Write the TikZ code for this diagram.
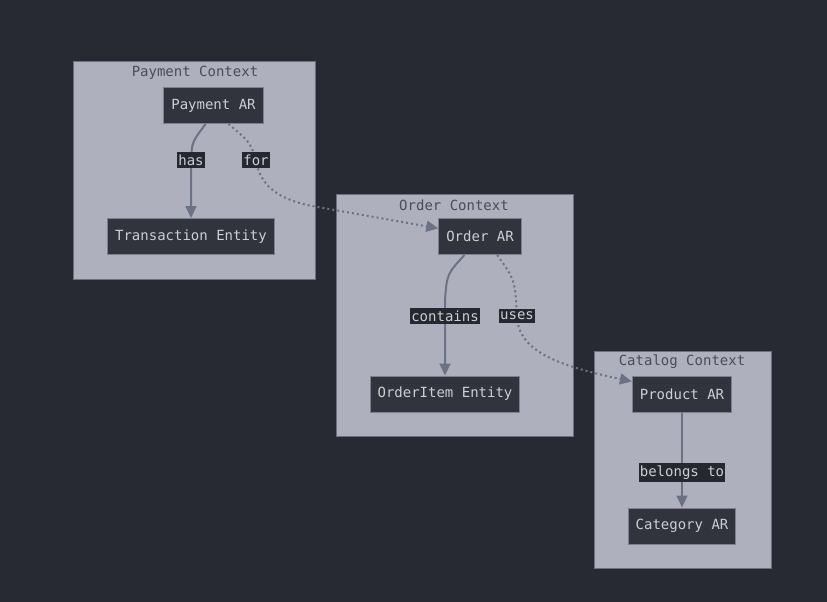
\documentclass[tikz,border=0pt]{standalone}
\usepackage{fontspec}
\setmonofont{DejaVu Sans Mono}
\usetikzlibrary{arrows.meta}
\definecolor{bgdark}{HTML}{282A33}
\definecolor{ctxfill}{HTML}{AEB0BD}
\definecolor{ctxline}{HTML}{6B6F7E}
\definecolor{ctxtext}{HTML}{4A4D58}
\definecolor{boxfill}{HTML}{31333D}
\definecolor{boxline}{HTML}{7B8090}
\definecolor{boxtext}{HTML}{CDCFD7}
\definecolor{edgecol}{HTML}{6C7285}
\definecolor{lblfill}{HTML}{262830}
\begin{document}
\begin{tikzpicture}[x=1pt, y=-1pt,
    ctxstyle/.style={rectangle, draw=ctxline, fill=ctxfill, line width=1pt},
    titlestyle/.style={text=ctxtext, font=\ttfamily\fontsize{14}{16}\selectfont},
    boxstyle/.style={rectangle, draw=boxline, fill=boxfill, line width=1pt, text=boxtext, font=\ttfamily\fontsize{14}{16}\selectfont, inner xsep=7.5pt, minimum height=36pt},
    arrowstyle/.style={-{Triangle[length=12pt, width=11pt]}, draw=edgecol, line width=2pt},
    dotstyle/.style={arrowstyle, dash pattern=on 2pt off 3pt},
    labelstyle/.style={fill=lblfill, text=boxtext, inner xsep=1pt, inner ysep=2.5pt, font=\ttfamily\fontsize{14}{16}\selectfont}
]
    \fill[bgdark] (0,0) rectangle (827,602);
    \useasboundingbox (0,0) rectangle (827,602);

    % contexts
    \node[ctxstyle, minimum width=242pt, minimum height=217pt] (payctx) at (194,170.5) {};
    \node[ctxstyle, minimum width=237pt, minimum height=242pt] (ordctx) at (454.5,315) {};
    \node[ctxstyle, minimum width=177pt, minimum height=217pt] (catctx) at (682.5,459.5) {};
    \node[titlestyle] (payttl) at (195,73) {Payment Context};
    \node[titlestyle] (ordttl) at (454,205) {Order Context};
    \node[titlestyle] (catttl) at (682,362) {Catalog Context};

    % aggregates and entities
    \node[boxstyle] (pay) at (213.5,105.5) {Payment AR};
    \node[boxstyle] (trans) at (191,236.5) {Transaction Entity};
    \node[boxstyle] (ord) at (480,236.5) {Order AR};
    \node[boxstyle] (item) at (445,394) {OrderItem Entity};
    \node[boxstyle] (prod) at (682,394) {Product AR};
    \node[boxstyle] (cat) at (682,526) {Category AR};

    % relations
    \draw[arrowstyle] (pay.-113) .. controls (192,142) .. (191,160) node[labelstyle] {has} -- (trans.north);
    \draw[dotstyle] (pay.-51) .. controls (250,142) .. (256,160) node[labelstyle] {for}
        .. controls (260,186) and (278,199) .. (312,206) -- (ord.169);
    \draw[arrowstyle] (ord.-130) .. controls (447,274) .. (445,300) -- (445,316) node[labelstyle] {contains} -- (item.north);
    \draw[dotstyle] (ord.-47) .. controls (515,280) .. (517,316) node[labelstyle] {uses}
        .. controls (518,352) and (560,366) .. (prod.166);
    \draw[arrowstyle] (prod.south) -- (cat.north) node[labelstyle, pos=0.63] {belongs to};
\end{tikzpicture}
\end{document}
